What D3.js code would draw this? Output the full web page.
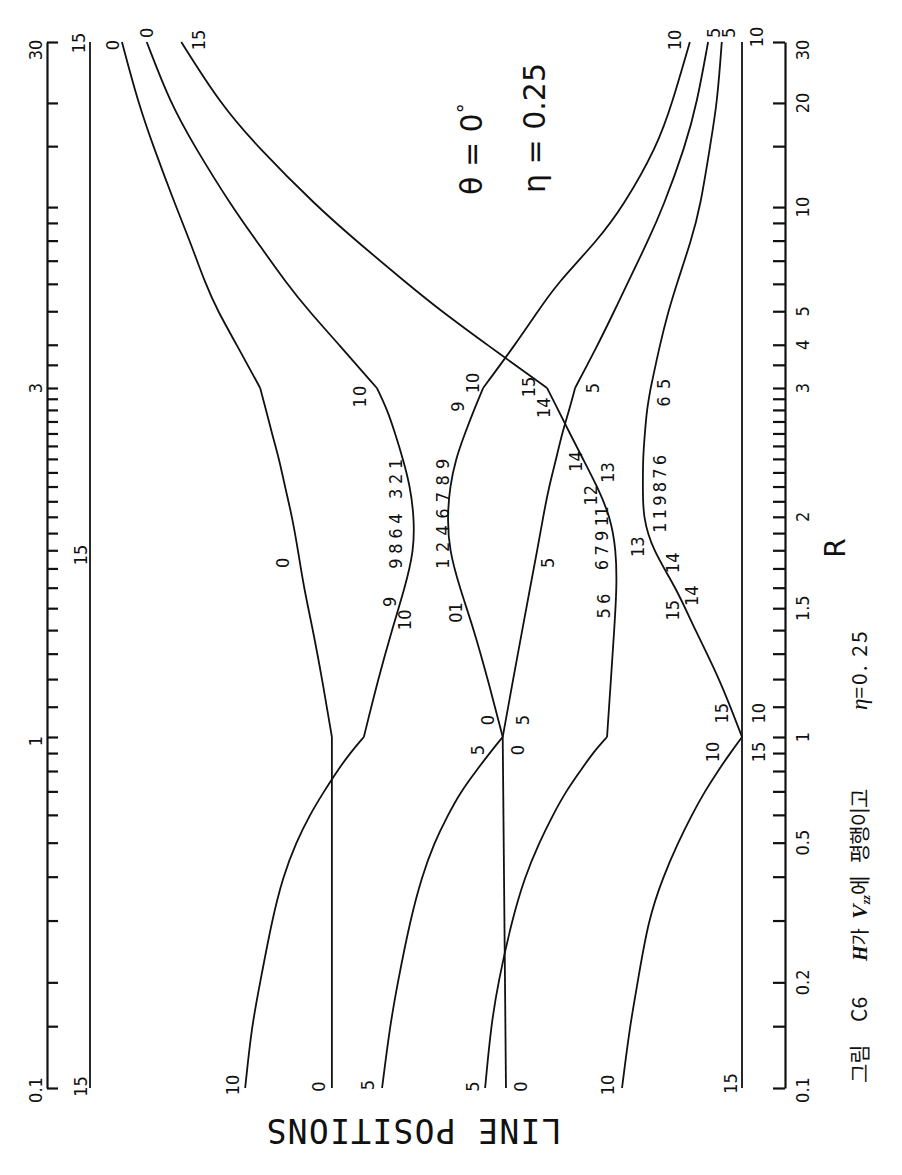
<!DOCTYPE html>
<html><head><meta charset="utf-8">
<script src="https://cdn.jsdelivr.net/npm/d3@7"></script>
<style>body{margin:0;background:#fff}svg{display:block}</style>
</head><body>
<svg id="c" width="902" height="1175"></svg>
<script>
// ---------- data ----------
const R_LOW  = [0.1,0.15,0.2,0.3,0.4,0.5,0.6,0.7,0.8,0.9,1];
const R_MID  = [1,1.2,1.4,1.6,1.8,2,2.2,2.4,2.6,2.8,3];
const R_HIGH = [3,4,5,6,8,10,15,20,30];
const R_FULL = [0.1,30];
const R_UNDER1 = [0.1,1];

// line positions (arbitrary units, 0 = lowest flat line, 100 = highest flat line)
const C1_LOW  = [62.9,62.9,62.9,62.9,62.9,62.9,62.9,62.9,62.9,62.9,62.9];
const C1_MID  = [62.9,64.4,65.8,67.2,68.1,69.0,70.1,71.0,72.1,73.0,73.9];
const C1_HIGH = [73.9,77.5,80.4,82.3,84.7,86.8,90.3,92.6,95.1];

const C2_LOW  = [76.2,75.2,73.9,72.1,70.4,68.4,66.3,64.1,62.1,60.1,58.0];
const C2_MID  = [58.0,55.8,53.7,51.7,50.3,50.3,50.9,52.0,53.2,54.4,56.0];
const C2_HIGH = [56.0,61.8,66.4,69.8,74.5,78.2,84.0,87.7,91.3];

const C3_LOW  = [39.4,38.5,37.4,35.3,33.3,31.1,29.0,27.0,24.8,22.9,20.7];
const C3_MID  = [20.7,20.1,19.6,19.2,19.3,20.2,22.2,24.4,26.4,28.2,29.9];
const C3_HIGH = [29.9,39.1,46.1,51.3,59.2,65.1,74.4,80.1,86.0];

const CD_MID  = [36.7,39.0,41.1,43.3,44.9,45.2,44.8,43.9,42.5,41.1,39.7];
const CD_HIGH = [39.7,34.8,31.3,28.4,22.2,18.3,13.0,10.7,8.0];

const CE_MID  = [36.7,35.1,33.7,32.5,31.4,30.5,29.6,28.5,27.6,26.5,25.6];
const CE_HIGH = [25.6,22.1,19.6,17.6,14.4,12.1,8.7,6.9,5.2];

const CF_LOW  = [18.4,17.2,16.0,14.4,12.1,9.8,7.7,5.7,3.7,1.8,0];
const CF_MID  = [0,3.4,7.2,10.1,13.7,15.2,15.2,15.2,14.9,14.6,14.0];
const CF_HIGH = [14.0,12.6,11.3,10.0,7.8,6.4,4.9,3.8,3.1];

const CG_LOW  = [55.2,54.0,52.8,50.9,49.1,47.2,45.1,43.1,40.8,38.7,36.7];

const FLAT_TOP    = [100,100];
const FLAT_BOTTOM = [0,0];
const FLAT_MID    = [36.2,36.7];

// curve labels: [R, position, text]
const CURVE_LABELS = [
  [29.8,101.7,"15"],[29.4,96.6,"0"],[31.9,91.3,"0"],[30.4,83.4,"15"],
  [30.4,10.3,"10"],[31.9,4.4,"5"],[31.9,2.1,"5"],[31.0,-2.3,"10"],
  [0.101,101.5,"15"],[0.102,78.1,"10"],[0.101,65.0,"0"],[0.102,57.5,"5"],
  [0.101,41.4,"5"],[0.101,33.9,"0"],[0.102,20.6,"10"],[0.103,1.8,"15"],
  [1.774,101.5,"15"],[1.73,70.4,"0"],[2.92,58.6,"1 0"],
  [2.02,53.1,"9864 321"],[2.02,46.0,"1246789"],
  [1.53,54.1,"9"],[1.446,51.8,"10"],[1.48,44.0,"01"],
  [2.83,43.6,"9"],[3.10,41.3,"10"],[3.02,32.8,"15"],[2.82,30.5,"14"],
  [3.0,22.9,"5"],[2.38,25.6,"14"],[2.30,20.6,"13"],[2.14,23.3,"12"],
  [1.87,21.5,"6 7 9 11"],[1.51,21.3,"5 6"],[1.73,29.8,"5"],
  [1.82,16.0,"13"],[2.15,12.6,"119876"],[2.955,12.1,"6 5"],
  [1.73,10.6,"14"],[1.49,10.7,"15"],[1.56,7.7,"14"],
  [1.055,39.1,"0"],[1.055,33.6,"5"],[0.918,40.6,"5"],[0.918,34.4,"0"],
  [1.078,3.1,"15"],[1.078,-2.5,"10"],[0.906,4.6,"10"],[0.906,-2.5,"15"]
];

const TICKS = [0.1,0.15,0.2,0.3,0.4,0.5,0.6,0.7,0.8,0.9,1,
  1.1,1.2,1.3,1.4,1.5,1.6,1.7,1.8,1.9,2,2.1,2.2,2.3,2.4,2.5,2.6,2.7,2.8,2.9,
  3,3.5,4,5,6,7,8,9,10,15,20,30];
const RIGHT_TICK_LABELS = [30,20,10,5,4,3,2,1.5,1,0.5,0.2,0.1];
const LEFT_TICK_LABELS  = [30,3,1,0.1];

// ---------- layout / style ----------
const svg = d3.select("#c");
svg.append("rect").attr("width",902).attr("height",1175).attr("fill","#fff");

const y = d3.scaleLog().domain([0.1,1,3,30]).range([1088,737,388,42]);
const x = d3.scaleLinear().domain([0,100]).range([742,90]);

const LABEL_FONT = "'DejaVu Sans Condensed','Liberation Sans Narrow','DejaVu Sans',sans-serif";
const SPREAD = {"9864 321":110,"1246789":110,"6 7 9 11":64,"119876":78,"5 6":25,"6 5":28,"1 0":22};

function rotText(g, px, py, txt, size, opts={}) {
  const t = g.append("text")
    .attr("transform",`translate(${px},${py}) rotate(${opts.rot==null?-90:opts.rot})`)
    .attr("text-anchor",opts.anchor||"middle")
    .attr("dominant-baseline",opts.base||"central")
    .attr("font-family",opts.family||LABEL_FONT)
    .attr("font-size",size)
    .attr("fill","#111")
    .text(txt);
  if (opts.len) t.attr("textLength",opts.len).attr("lengthAdjust","spacing");
  return t;
}

// axes
const TICK_LEN = 12;
const axR = svg.append("g").attr("transform","translate(785,0)")
  .call(d3.axisRight(y).tickValues(TICKS).tickSizeInner(-TICK_LEN).tickSizeOuter(0).tickFormat(""));
const axL = svg.append("g").attr("transform","translate(47,0)")
  .call(d3.axisLeft(y).tickValues(TICKS).tickSizeInner(-TICK_LEN+1).tickSizeOuter(0).tickFormat(""));
[axR,axL].forEach(a=>{
  a.select(".domain").attr("stroke","#111").attr("stroke-width",2.2);
  a.selectAll(".tick line").attr("stroke","#111").attr("stroke-width",2.2);
});
const nudge = v => v===30 ? 8 : (v===0.1 ? 2 : 0);
const gl = svg.append("g");
RIGHT_TICK_LABELS.forEach(v => rotText(gl, 802, y(v)+nudge(v), String(v), 18));
LEFT_TICK_LABELS.forEach(v => rotText(gl, 35, y(v)+nudge(v)+(v===1?4:0), String(v), 18));

// curves
const line = d3.line().x(d=>x(d[1])).y(d=>y(d[0])).curve(d3.curveBasis);
const segs = [
  [R_LOW,C1_LOW],[R_MID,C1_MID],[R_HIGH,C1_HIGH],
  [R_LOW,C2_LOW],[R_MID,C2_MID],[R_HIGH,C2_HIGH],
  [R_LOW,C3_LOW],[R_MID,C3_MID],[R_HIGH,C3_HIGH],
  [R_MID,CD_MID],[R_HIGH,CD_HIGH],
  [R_MID,CE_MID],[R_HIGH,CE_HIGH],
  [R_LOW,CF_LOW],[R_MID,CF_MID],[R_HIGH,CF_HIGH],
  [R_LOW,CG_LOW],
  [R_FULL,FLAT_TOP],[R_FULL,FLAT_BOTTOM],[R_UNDER1,FLAT_MID]
];
const gc = svg.append("g").attr("fill","none").attr("stroke","#111").attr("stroke-width",1.8)
  .attr("stroke-linejoin","round");
segs.forEach(([rs,ps]) => gc.append("path").attr("d", line(rs.map((r,i)=>[r,ps[i]]))));

// curve labels
const glab = svg.append("g");
CURVE_LABELS.forEach(([r,p,t]) => rotText(glab, x(p), y(r), t, 18, {len: SPREAD[t]}));

// parameter annotation
const ga = svg.append("g");
const ANN = "'DejaVu Sans','Noto Sans',sans-serif";
const th = rotText(ga, 482, 195, "", 30, {anchor:"start", base:"auto", family:ANN});
th.append("tspan").text("θ = 0");
th.append("tspan").attr("dy",-10).attr("font-size",20).text("°");
rotText(ga, 545, 193, "η = 0.25", 30, {anchor:"start", base:"auto", family:ANN});

// axis title R
rotText(ga, 835, 548, "R", 28, {family:ANN});

// LINE POSITIONS (upside down)
rotText(ga, 414, 1130, "LINE POSITIONS", 33, {rot:180, family:"'DejaVu Sans Mono','Liberation Mono',monospace", len:295});

// caption
const KR = "'Noto Sans CJK KR','Noto Sans',sans-serif";
const SERIF = "'Liberation Serif','DejaVu Serif',serif";
const cap = ga.append("text")
  .attr("transform","translate(867,1083) rotate(-90)")
  .attr("font-family",KR).attr("font-size",21).attr("fill","#111");
cap.append("tspan").attr("x",0).text("그림");
cap.append("tspan").attr("x",61).text("C6");
cap.append("tspan").attr("x",122).attr("font-family",SERIF).attr("font-style","italic").attr("font-weight","bold").attr("font-size",20).text("H");
cap.append("tspan").attr("font-size",19).text("가");
cap.append("tspan").attr("x",164).attr("font-family",SERIF).attr("font-style","italic").attr("font-weight","bold").attr("font-size",22).text("V");
cap.append("tspan").attr("font-family",SERIF).attr("font-style","italic").attr("font-weight","bold").attr("font-size",12).attr("dy",3).text("zz");
cap.append("tspan").attr("dy",-3).text("에");
cap.append("tspan").attr("x",220).attr("letter-spacing",-1).text("평행이고");
cap.append("tspan").attr("x",373).attr("font-family",SERIF).attr("font-style","italic").attr("font-size",23).text("η");
cap.append("tspan").attr("letter-spacing",2).text("=0. 25");
</script>
</body></html>
